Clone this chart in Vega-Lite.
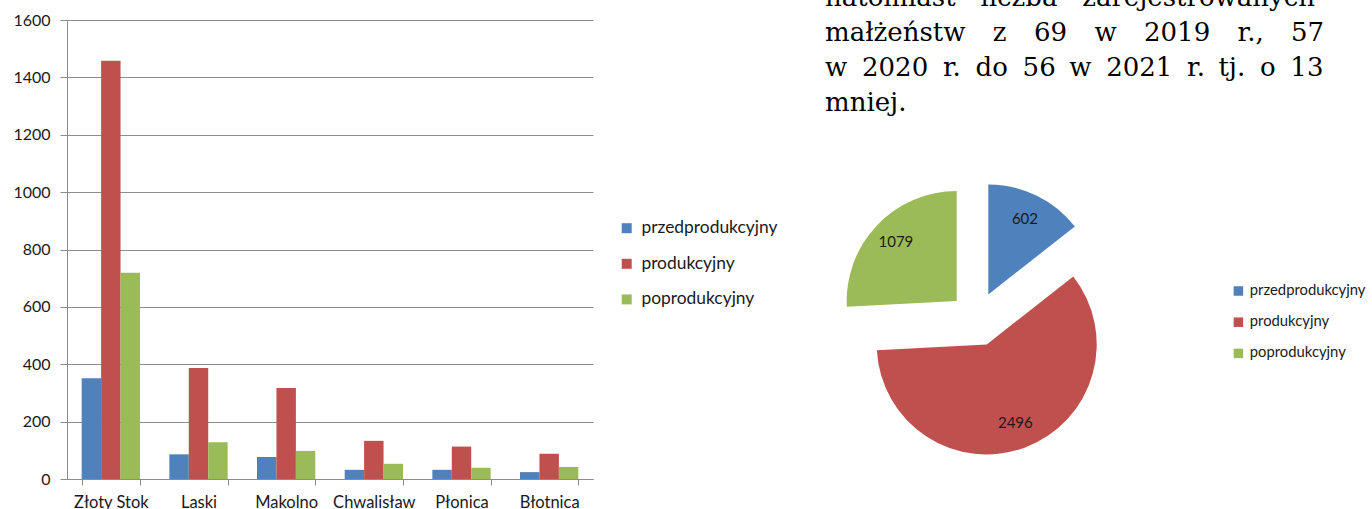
{
  "$schema": "https://vega.github.io/schema/vega-lite/v6.json",
  "padding": {"left": 12, "top": -16, "right": 0, "bottom": 0},
  "bounds": "flush",
  "spacing": 232,
  "config": {"view": {"stroke": null}, "font": "Lato"},
  "resolve": {"scale": {"color": "independent"}, "legend": {"color": "independent"}},
  "hconcat": [
    {
      "width": 526,
      "height": 459,
      "data": {"values": [
        {"miejscowosc": "Złoty Stok", "grupa": "przedprodukcyjny", "wartosc": 351},
        {"miejscowosc": "Złoty Stok", "grupa": "produkcyjny", "wartosc": 1458},
        {"miejscowosc": "Złoty Stok", "grupa": "poprodukcyjny", "wartosc": 719},
        {"miejscowosc": "Laski", "grupa": "przedprodukcyjny", "wartosc": 86},
        {"miejscowosc": "Laski", "grupa": "produkcyjny", "wartosc": 387},
        {"miejscowosc": "Laski", "grupa": "poprodukcyjny", "wartosc": 128},
        {"miejscowosc": "Makolno", "grupa": "przedprodukcyjny", "wartosc": 77},
        {"miejscowosc": "Makolno", "grupa": "produkcyjny", "wartosc": 317},
        {"miejscowosc": "Makolno", "grupa": "poprodukcyjny", "wartosc": 98},
        {"miejscowosc": "Chwalisław", "grupa": "przedprodukcyjny", "wartosc": 32},
        {"miejscowosc": "Chwalisław", "grupa": "produkcyjny", "wartosc": 133},
        {"miejscowosc": "Chwalisław", "grupa": "poprodukcyjny", "wartosc": 53},
        {"miejscowosc": "Płonica", "grupa": "przedprodukcyjny", "wartosc": 32},
        {"miejscowosc": "Płonica", "grupa": "produkcyjny", "wartosc": 113},
        {"miejscowosc": "Płonica", "grupa": "poprodukcyjny", "wartosc": 39},
        {"miejscowosc": "Błotnica", "grupa": "przedprodukcyjny", "wartosc": 24},
        {"miejscowosc": "Błotnica", "grupa": "produkcyjny", "wartosc": 88},
        {"miejscowosc": "Błotnica", "grupa": "poprodukcyjny", "wartosc": 42}
      ]},
      "mark": {"type": "bar"},
      "encoding": {
        "x": {
          "field": "miejscowosc", "type": "nominal", "sort": null,
          "scale": {"paddingInner": 0.335, "paddingOuter": 0.1675},
          "axis": {
            "title": null, "labelAngle": 0, "tickBand": "extent",
            "domainColor": "#8c8c8c", "tickColor": "#8c8c8c", "tickSize": 6,
            "labelPadding": 9, "labelFont": "Lato", "labelFontSize": 16.5, "labelColor": "#1a1a1a"
          }
        },
        "xOffset": {
          "field": "grupa", "type": "nominal",
          "sort": ["przedprodukcyjny", "produkcyjny", "poprodukcyjny"],
          "scale": {"paddingInner": 0, "paddingOuter": 0}
        },
        "y": {
          "field": "wartosc", "type": "quantitative",
          "scale": {"domain": [0, 1600]},
          "axis": {
            "title": null, "values": [0, 200, 400, 600, 800, 1000, 1200, 1400, 1600], "format": "d",
            "grid": true, "gridColor": "#8c8c8c", "gridOpacity": 1,
            "domainColor": "#8c8c8c", "tickColor": "#8c8c8c", "tickSize": 7,
            "labelPadding": 10, "labelFont": "Lato", "labelFontSize": 16, "labelColor": "#1a1a1a"
          }
        },
        "color": {
          "field": "grupa", "type": "nominal",
          "scale": {
            "domain": ["przedprodukcyjny", "produkcyjny", "poprodukcyjny"],
            "range": ["#4F81BD", "#C0504D", "#9BBB59"]
          },
          "legend": {
            "orient": "none", "legendX": 551, "legendY": 199.5, "title": null,
            "symbolType": "square", "symbolSize": 100, "symbolStrokeWidth": 0,
            "labelFont": "Lato", "labelFontSize": 17.4, "labelColor": "#1a1a1a",
            "labelOffset": 6, "rowPadding": 16.6
          }
        }
      }
    },
    {
      "width": 300,
      "height": 459,
      "title": {
        "text": [
          "natomiast\u00a0\u00a0\u00a0liczba\u00a0\u00a0\u00a0zarejestrowanych",
          "małżeństw\u00a0\u00a0\u00a0\u200az\u00a0\u00a0\u00a0\u200a69\u00a0\u00a0\u00a0\u200aw\u00a0\u00a0\u00a0\u200a2019\u00a0\u00a0\u00a0\u200ar.,\u00a0\u00a0\u00a0\u200a57",
          "w\u00a0\u20052020\u00a0\u2005r.\u00a0\u2005do\u00a0\u200556\u00a0\u2009w\u00a0\u20052021\u00a0\u2005r.\u00a0\u2009tj.\u00a0\u2005o\u00a0\u200513",
          "mniej."
        ],
        "anchor": "start", "frame": "group", "orient": "top",
        "font": "DejaVu Serif", "fontSize": 26, "fontWeight": "normal", "color": "#000000",
        "lineHeight": 35, "baseline": "alphabetic", "offset": -116.5
      },
      "data": {"values": [
        {"grupa": "przedprodukcyjny", "liczba": 602, "kolejnosc": 1},
        {"grupa": "produkcyjny", "liczba": 2496, "kolejnosc": 2},
        {"grupa": "poprodukcyjny", "liczba": 1079, "kolejnosc": 3}
      ]},
      "transform": [
        {"stack": "liczba", "groupby": [], "sort": [{"field": "kolejnosc", "order": "ascending"}], "as": ["kat0", "kat1"]}
      ],
      "encoding": {
        "color": {
          "field": "grupa", "type": "nominal",
          "scale": {
            "domain": ["przedprodukcyjny", "produkcyjny", "poprodukcyjny"],
            "range": ["#4F81BD", "#C0504D", "#9BBB59"]
          },
          "legend": {
            "orient": "none", "legendX": 406, "legendY": 263.6, "title": null,
            "symbolType": "square", "symbolSize": 90, "symbolStrokeWidth": 0,
            "labelFont": "Lato", "labelFontSize": 14.8, "labelColor": "#1a1a1a",
            "labelOffset": 4, "rowPadding": 15.2
          }
        }
      },
      "layer": [
        {
          "transform": [{"filter": "datum.kolejnosc == 1"}],
          "mark": {"type": "arc", "outerRadius": 110, "xOffset": 13.3, "yOffset": 44.9},
          "encoding": {
            "theta": {"field": "kat0", "type": "quantitative", "scale": {"domain": [0, 4177]}},
            "theta2": {"field": "kat1"}
          }
        },
        {
          "transform": [{"filter": "datum.kolejnosc == 2"}],
          "mark": {"type": "arc", "outerRadius": 110, "xOffset": 11.7, "yOffset": 94.9},
          "encoding": {
            "theta": {"field": "kat0", "type": "quantitative", "scale": {"domain": [0, 4177]}},
            "theta2": {"field": "kat1"}
          }
        },
        {
          "transform": [{"filter": "datum.kolejnosc == 3"}],
          "mark": {"type": "arc", "outerRadius": 110, "xOffset": -18.3, "yOffset": 51.6},
          "encoding": {
            "theta": {"field": "kat0", "type": "quantitative", "scale": {"domain": [0, 4177]}},
            "theta2": {"field": "kat1"}
          }
        },
        {
          "mark": {"type": "text", "radius": 111, "xOffset": 1.4, "yOffset": 69.4, "font": "Lato", "fontSize": 15, "color": "#1a1a1a"},
          "encoding": {
            "theta": {"field": "liczba", "type": "quantitative", "stack": true},
            "order": {"field": "kolejnosc", "type": "quantitative"},
            "text": {"field": "liczba", "type": "quantitative"},
            "color": {"value": "#1a1a1a"}
          }
        }
      ]
    }
  ]
}
